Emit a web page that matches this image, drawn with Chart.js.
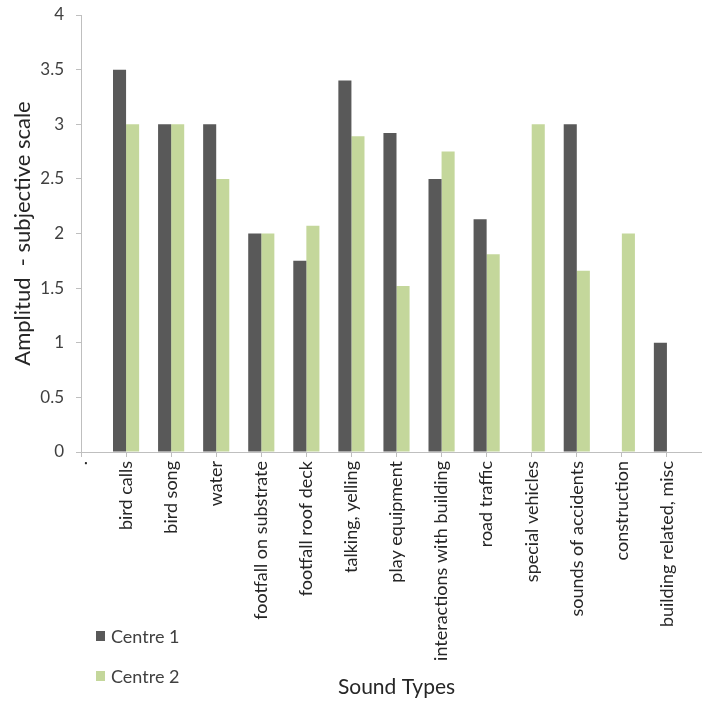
<!DOCTYPE html>
<html>
<head>
<meta charset="utf-8">
<script src="https://cdn.jsdelivr.net/npm/chart.js@4/dist/chart.umd.min.js"></script>
<style>
  html, body { margin:0; padding:0; background:#fff; overflow:hidden; }
  #wrap { width:712px; height:702px; position:relative; }
</style>
</head>
<body>
<div id="wrap"><canvas id="soundChart"></canvas></div>
<script>
// —————— DATA ——————
const soundTypes = ['.', 'bird calls', 'bird song', 'water', 'footfall on substrate', 'footfall roof deck',
  'talking, yelling', 'play equipment', 'interactions with building', 'road traffic',
  'special vehicles', 'sounds of accidents', 'construction', 'building related, misc', ''];
const centre1 = [null, 3.5, 3, 3, 2, 1.75, 3.4, 2.92, 2.5, 2.13, null, 3, null, 1, null];
const centre2 = [null, 3, 3, 2.5, 2, 2.07, 2.89, 1.52, 2.75, 1.81, 3, 1.66, 2, null, null];
const yTicks  = [0, 0.5, 1, 1.5, 2, 2.5, 3, 3.5, 4];

const FONT = 'Lato, "Open Sans", sans-serif';
const axisGrey = '#bfbfbf';

// —————— LEGEND (drawn bottom-left, stacked) ——————
const stackedLegend = {
  id: 'stackedLegend',
  afterDraw(chart, args, opts) {
    const ctx = chart.ctx;
    ctx.save();
    ctx.font = '18px ' + FONT;
    ctx.textBaseline = 'middle';
    chart.data.datasets.forEach((ds, i) => {
      const y = opts.y + i * opts.gap;
      ctx.fillStyle = ds.backgroundColor;
      ctx.fillRect(opts.x, y - 5, 9, 10);
      ctx.fillStyle = '#404040';
      ctx.fillText(ds.label, opts.x + 15, y + 1);
    });
    ctx.restore();
  }
};

new Chart(document.getElementById('soundChart'), {
  type: 'bar',
  data: {
    labels: soundTypes,
    datasets: [
      { label: 'Centre 1', data: centre1, backgroundColor: '#595959' },
      { label: 'Centre 2', data: centre2, backgroundColor: '#c4d79b' }
    ]
  },
  options: {
    responsive: true,
    maintainAspectRatio: false,
    animation: false,
    categoryPercentage: 0.58,
    barPercentage: 1,
    layout: { padding: { top: 15, right: 0, left: 0, bottom: 0 } },
    plugins: {
      legend: { display: false },
      tooltip: { enabled: false },
      stackedLegend: { x: 96, y: 636, gap: 40 }
    },
    scales: {
      x: {
        offset: false,
        grid: { offset: false, drawOnChartArea: false, drawTicks: true, tickLength: 5, color: axisGrey },
        border: { display: true, color: axisGrey },
        ticks: {
          autoSkip: false, maxRotation: 90, minRotation: 90, padding: 4,
          color: '#262626', font: { family: FONT, size: 18 }
        },
        title: {
          display: true, text: 'Sound Types', color: '#262626',
          font: { family: FONT, size: 21 }, padding: { top: 4, bottom: 2 }
        },
        afterFit(scale) {
          scale.height = 250;
          scale.paddingLeft = 0;
          scale.paddingRight = 0;
        }
      },
      y: {
        min: 0, max: 4,
        afterBuildTicks(scale) { scale.ticks = yTicks.map(v => ({ value: v })); },
        grid: { drawOnChartArea: false, drawTicks: true, tickLength: 5, color: axisGrey },
        border: { display: true, color: axisGrey },
        ticks: {
          padding: 12, color: '#404040', font: { family: FONT, size: 17 },
          callback: v => String(v)
        },
        title: {
          display: true, text: 'Amplitud  - subjective scale', color: '#262626',
          font: { family: FONT, size: 22 }, padding: { top: 10, bottom: 0 }
        },
        afterFit(scale) {
          scale.width = 81;
          scale.paddingTop = 0;
          scale.paddingBottom = 0;
        }
      }
    }
  },
  plugins: [stackedLegend]
});
</script>
</body>
</html>
